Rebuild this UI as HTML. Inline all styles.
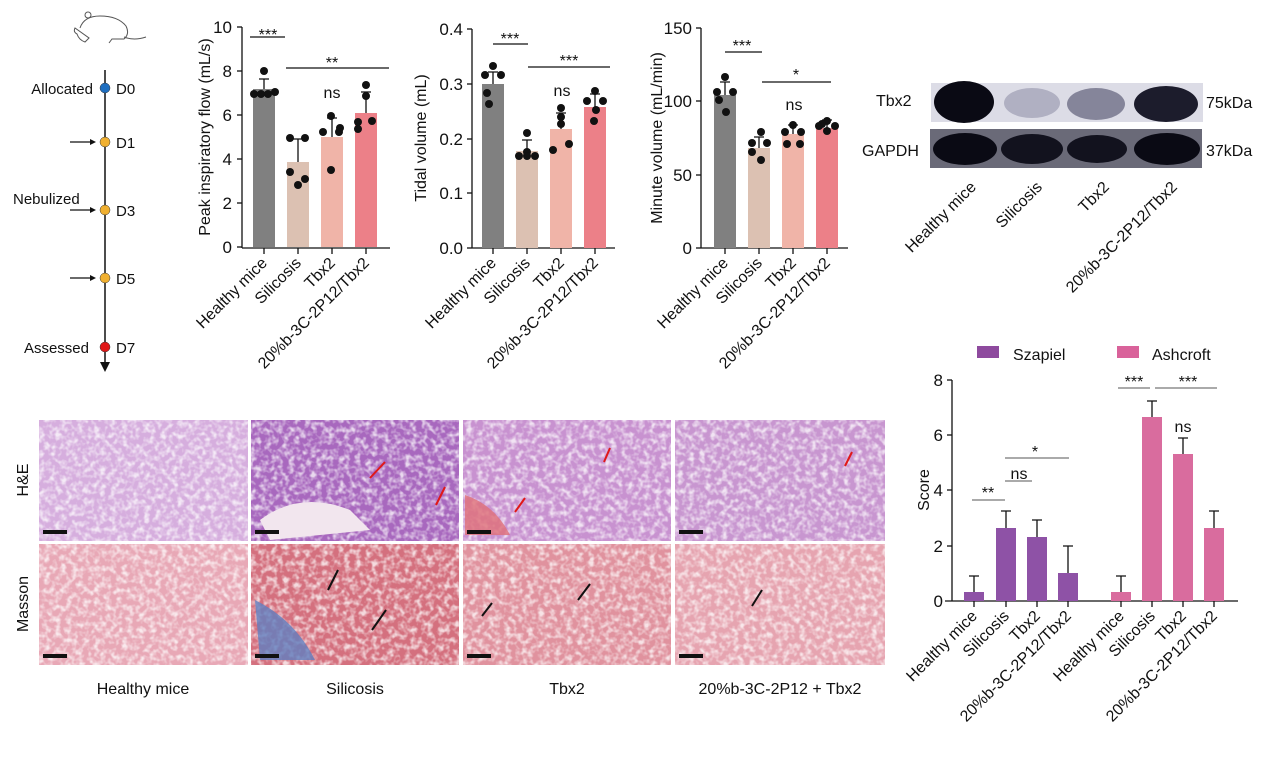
<!DOCTYPE html>
<html><head><meta charset="utf-8"><style>
body{margin:0;background:#fff}
svg{display:block;font-family:"Liberation Sans",Arial,sans-serif}
.n{font-size:17px}
</style></head><body>
<svg width="1268" height="760" viewBox="0 0 1268 760" xmlns="http://www.w3.org/2000/svg">
<defs>
<filter id="tex" x="0" y="0" width="100%" height="100%">
<feTurbulence type="fractalNoise" baseFrequency="0.18" numOctaves="2" seed="3"/>
<feColorMatrix type="matrix" values="0 0 0 0 1  0 0 0 0 1  0 0 0 0 1  0 0 0 -2.6 1.55"/>
</filter>
</defs>
<!-- mouse -->
<g stroke="#555" fill="none" stroke-width="1">
<path d="M80 28 q4-12 20-12 q18 0 26 10 q4 8 -2 13 h-12 l-3 4 m-20-5 l-4 4 q-6 -2 -8-8 q-4-2-2-6z"/>
<path d="M124 37 q10 4 22 0"/><circle cx="88" cy="15" r="3"/>
</g>
<!-- timeline -->
<g font-size="15" fill="#111">
<line x1="105" y1="70" x2="105" y2="362" stroke="#111" stroke-width="1.5"/>
<polygon points="100,362 110,362 105,372" fill="#111"/>
<circle cx="105" cy="88" r="5" fill="#1f6fc0" stroke="#333" stroke-width=".5"/>
<circle cx="105" cy="142" r="5" fill="#f0b030" stroke="#333" stroke-width=".5"/>
<circle cx="105" cy="210" r="5" fill="#f0b030" stroke="#333" stroke-width=".5"/>
<circle cx="105" cy="278" r="5" fill="#f0b030" stroke="#333" stroke-width=".5"/>
<circle cx="105" cy="347" r="5" fill="#e01818" stroke="#333" stroke-width=".5"/>
<text x="116" y="94">D0</text><text x="116" y="148">D1</text><text x="116" y="216">D3</text><text x="116" y="284">D5</text><text x="116" y="353">D7</text>
<text x="93" y="94" text-anchor="end">Allocated</text>
<text x="13" y="204">Nebulized</text>
<text x="89" y="353" text-anchor="end">Assessed</text>
<g stroke="#111" stroke-width="1.2"><line x1="70" y1="142" x2="92" y2="142"/><line x1="70" y1="210" x2="92" y2="210"/><line x1="70" y1="278" x2="92" y2="278"/></g>
<polygon points="90,139 96,142 90,145" fill="#111"/><polygon points="90,207 96,210 90,213" fill="#111"/><polygon points="90,275 96,278 90,281" fill="#111"/>
</g>

<!-- Chart 1 -->
<g font-size="16" fill="#111">
<g stroke="#111" stroke-width="1.3">
<line x1="242" y1="27" x2="242" y2="248"/><line x1="242" y1="248" x2="390" y2="248"/>
<line x1="237" y1="27" x2="242" y2="27"/><line x1="237" y1="71" x2="242" y2="71"/><line x1="237" y1="115" x2="242" y2="115"/><line x1="237" y1="159" x2="242" y2="159"/><line x1="237" y1="203" x2="242" y2="203"/><line x1="237" y1="247" x2="242" y2="247"/>
<line x1="264" y1="248" x2="264" y2="254"/><line x1="298" y1="248" x2="298" y2="254"/><line x1="332" y1="248" x2="332" y2="254"/><line x1="366" y1="248" x2="366" y2="254"/>
</g>
<g text-anchor="end" class="n"><text x="232" y="33">10</text><text x="232" y="77">8</text><text x="232" y="121">6</text><text x="232" y="165">4</text><text x="232" y="209">2</text><text x="232" y="253">0</text></g>
<text transform="translate(210,137) rotate(-90)" text-anchor="middle">Peak inspiratory flow (mL/s)</text>
<rect x="253" y="89" width="22" height="158" fill="#808080"/><rect x="287" y="162" width="22" height="85" fill="#dcc1b2"/><rect x="321" y="137" width="22" height="110" fill="#f0b4a8"/><rect x="355" y="113" width="22" height="134" fill="#ec8088"/>
<g stroke="#111" stroke-width="1.3"><path d="M264 89V79M259 79h10M298 162V139M293 139h10M332 137V118M327 118h10M366 113V92M361 92h10"/>
<path d="M250 37h35M286 68h103"/></g>
<g fill="#111"><circle cx="264" cy="71" r="4"/><circle cx="254" cy="94" r="4"/><circle cx="261" cy="94" r="4"/><circle cx="268" cy="94" r="4"/><circle cx="275" cy="92" r="4"/>
<circle cx="290" cy="138" r="4"/><circle cx="305" cy="138" r="4"/><circle cx="290" cy="172" r="4"/><circle cx="305" cy="179" r="4"/><circle cx="298" cy="185" r="4"/>
<circle cx="323" cy="132" r="4"/><circle cx="331" cy="116" r="4"/><circle cx="340" cy="128" r="4"/><circle cx="331" cy="170" r="4"/><circle cx="339" cy="132" r="4"/>
<circle cx="366" cy="85" r="4"/><circle cx="366" cy="96" r="4"/><circle cx="358" cy="122" r="4"/><circle cx="372" cy="121" r="4"/><circle cx="358" cy="129" r="4"/></g>
<text x="268" y="40" text-anchor="middle">***</text><text x="332" y="68" text-anchor="middle">**</text><text x="332" y="98" text-anchor="middle">ns</text>
<g text-anchor="end"><text transform="translate(268,264) rotate(-45)">Healthy mice</text><text transform="translate(302,264) rotate(-45)">Silicosis</text><text transform="translate(336,264) rotate(-45)">Tbx2</text><text transform="translate(370,264) rotate(-45)">20%b-3C-2P12/Tbx2</text></g>
</g>

<!-- Chart 2 -->
<g font-size="16" fill="#111">
<g stroke="#111" stroke-width="1.3">
<line x1="472" y1="29" x2="472" y2="248"/><line x1="472" y1="248" x2="615" y2="248"/>
<line x1="467" y1="29" x2="472" y2="29"/><line x1="467" y1="84" x2="472" y2="84"/><line x1="467" y1="139" x2="472" y2="139"/><line x1="467" y1="193" x2="472" y2="193"/><line x1="467" y1="248" x2="472" y2="248"/>
<line x1="493" y1="248" x2="493" y2="254"/><line x1="527" y1="248" x2="527" y2="254"/><line x1="561" y1="248" x2="561" y2="254"/><line x1="595" y1="248" x2="595" y2="254"/>
</g>
<g text-anchor="end" class="n"><text x="463" y="35">0.4</text><text x="463" y="90">0.3</text><text x="463" y="145">0.2</text><text x="463" y="199">0.1</text><text x="463" y="254">0.0</text></g>
<text transform="translate(426,138) rotate(-90)" text-anchor="middle">Tidal volume (mL)</text>
<rect x="482" y="84" width="22" height="164" fill="#808080"/><rect x="516" y="151" width="22" height="97" fill="#dcc1b2"/><rect x="550" y="129" width="22" height="119" fill="#f0b4a8"/><rect x="584" y="107" width="22" height="141" fill="#ec8088"/>
<g stroke="#111" stroke-width="1.3"><path d="M493 84V72M488 72h10M527 151V140M522 140h10M561 129V113M556 113h10M595 107V94M590 94h10M493 44h35M528 67h82"/></g>
<g fill="#111"><circle cx="493" cy="66" r="4"/><circle cx="485" cy="75" r="4"/><circle cx="501" cy="75" r="4"/><circle cx="487" cy="93" r="4"/><circle cx="489" cy="104" r="4"/>
<circle cx="527" cy="133" r="4"/><circle cx="519" cy="156" r="4"/><circle cx="527" cy="152" r="4"/><circle cx="535" cy="156" r="4"/><circle cx="527" cy="156" r="4"/>
<circle cx="561" cy="108" r="4"/><circle cx="561" cy="117" r="4"/><circle cx="553" cy="150" r="4"/><circle cx="569" cy="144" r="4"/><circle cx="561" cy="124" r="4"/>
<circle cx="595" cy="91" r="4"/><circle cx="587" cy="101" r="4"/><circle cx="603" cy="101" r="4"/><circle cx="596" cy="110" r="4"/><circle cx="594" cy="121" r="4"/></g>
<text x="510" y="44" text-anchor="middle">***</text><text x="569" y="66" text-anchor="middle">***</text><text x="562" y="96" text-anchor="middle">ns</text>
<g text-anchor="end"><text transform="translate(497,264) rotate(-45)">Healthy mice</text><text transform="translate(531,264) rotate(-45)">Silicosis</text><text transform="translate(565,264) rotate(-45)">Tbx2</text><text transform="translate(599,264) rotate(-45)">20%b-3C-2P12/Tbx2</text></g>
</g>

<!-- Chart 3 -->
<g font-size="16" fill="#111">
<g stroke="#111" stroke-width="1.3">
<line x1="701" y1="28" x2="701" y2="248"/><line x1="701" y1="248" x2="848" y2="248"/>
<line x1="696" y1="28" x2="701" y2="28"/><line x1="696" y1="101" x2="701" y2="101"/><line x1="696" y1="175" x2="701" y2="175"/><line x1="696" y1="248" x2="701" y2="248"/>
<line x1="725" y1="248" x2="725" y2="254"/><line x1="759" y1="248" x2="759" y2="254"/><line x1="793" y1="248" x2="793" y2="254"/><line x1="827" y1="248" x2="827" y2="254"/>
</g>
<g text-anchor="end" class="n"><text x="692" y="34">150</text><text x="692" y="107">100</text><text x="692" y="181">50</text><text x="692" y="254">0</text></g>
<text transform="translate(662,138) rotate(-90)" text-anchor="middle">Minute volume (mL/min)</text>
<rect x="714" y="95" width="22" height="153" fill="#808080"/><rect x="748" y="148" width="22" height="100" fill="#dcc1b2"/><rect x="782" y="134" width="22" height="114" fill="#f0b4a8"/><rect x="816" y="128" width="22" height="120" fill="#ec8088"/>
<g stroke="#111" stroke-width="1.3"><path d="M725 95V82M720 82h10M759 148V137M754 137h10M793 134V125M788 125h10M827 128V120M822 120h10M725 52h37M762 82h69"/></g>
<g fill="#111"><circle cx="725" cy="77" r="4"/><circle cx="717" cy="92" r="4"/><circle cx="733" cy="92" r="4"/><circle cx="719" cy="100" r="4"/><circle cx="726" cy="112" r="4"/>
<circle cx="761" cy="132" r="4"/><circle cx="752" cy="143" r="4"/><circle cx="767" cy="143" r="4"/><circle cx="752" cy="152" r="4"/><circle cx="761" cy="160" r="4"/>
<circle cx="793" cy="125" r="4"/><circle cx="785" cy="132" r="4"/><circle cx="801" cy="132" r="4"/><circle cx="787" cy="144" r="4"/><circle cx="800" cy="144" r="4"/>
<circle cx="827" cy="121" r="4"/><circle cx="819" cy="126" r="4"/><circle cx="835" cy="126" r="4"/><circle cx="827" cy="131" r="4"/><circle cx="822" cy="124" r="4"/></g>
<text x="742" y="51" text-anchor="middle">***</text><text x="796" y="80" text-anchor="middle">*</text><text x="794" y="110" text-anchor="middle">ns</text>
<g text-anchor="end"><text transform="translate(729,264) rotate(-45)">Healthy mice</text><text transform="translate(763,264) rotate(-45)">Silicosis</text><text transform="translate(797,264) rotate(-45)">Tbx2</text><text transform="translate(831,264) rotate(-45)">20%b-3C-2P12/Tbx2</text></g>
</g>

<!-- Western blot -->
<g font-size="16" fill="#111">
<rect x="931" y="83" width="272" height="39" fill="#dcdce6"/>
<rect x="930" y="129" width="272" height="39" fill="#6a6a78"/>
<ellipse cx="964" cy="102" rx="30" ry="21" fill="#0a0a14"/>
<ellipse cx="1032" cy="103" rx="28" ry="15" fill="#b0b0c2"/>
<ellipse cx="1096" cy="104" rx="29" ry="16" fill="#85859a"/>
<ellipse cx="1166" cy="104" rx="32" ry="18" fill="#1c1c2c"/>
<ellipse cx="965" cy="149" rx="32" ry="16" fill="#0a0a14"/>
<ellipse cx="1032" cy="149" rx="31" ry="15" fill="#12121e"/>
<ellipse cx="1097" cy="149" rx="30" ry="14" fill="#12121e"/>
<ellipse cx="1167" cy="149" rx="33" ry="16" fill="#0a0a14"/>
<text x="876" y="106">Tbx2</text><text x="862" y="156">GAPDH</text>
<text x="1206" y="108">75kDa</text><text x="1206" y="156">37kDa</text>
<g text-anchor="end"><text transform="translate(977,188) rotate(-45)">Healthy mice</text><text transform="translate(1043,188) rotate(-45)">Silicosis</text><text transform="translate(1110,188) rotate(-45)">Tbx2</text><text transform="translate(1178,188) rotate(-45)">20%b-3C-2P12/Tbx2</text></g>
</g>

<!-- Histology -->
<g>
<rect x="39" y="420" width="209" height="121" fill="#d6aede"/>
<rect x="251" y="420" width="208" height="121" fill="#a868be"/>
<rect x="463" y="420" width="208" height="121" fill="#c892d0"/>
<rect x="675" y="420" width="210" height="121" fill="#c896d0"/>
<rect x="39" y="544" width="209" height="121" fill="#e8a8b6"/>
<rect x="251" y="544" width="208" height="121" fill="#d4707e"/>
<rect x="463" y="544" width="208" height="121" fill="#e0929e"/>
<rect x="675" y="544" width="210" height="121" fill="#e6a4b0"/>
<rect x="39" y="420" width="846" height="245" filter="url(#tex)" opacity="0.75"/>
<rect x="248" y="420" width="3" height="245" fill="#fff"/><rect x="459" y="420" width="4" height="245" fill="#fff"/><rect x="671" y="420" width="4" height="245" fill="#fff"/><rect x="39" y="541" width="846" height="3" fill="#fff"/>
<path d="M260 520 q40-30 90-10 l20 20 -100 10z" fill="#f2e6ee"/>
<path d="M255 600 q40 20 60 60 h-55z" fill="#6080c0" opacity=".8"/>
<path d="M465 495 q30 10 45 40 h-45z" fill="#e07078" opacity=".8"/>
<g fill="#111"><rect x="43" y="530" width="24" height="4"/><rect x="255" y="530" width="24" height="4"/><rect x="467" y="530" width="24" height="4"/><rect x="679" y="530" width="24" height="4"/>
<rect x="43" y="654" width="24" height="4"/><rect x="255" y="654" width="24" height="4"/><rect x="467" y="654" width="24" height="4"/><rect x="679" y="654" width="24" height="4"/></g>
<g stroke="#e01818" stroke-width="2"><line x1="385" y1="462" x2="370" y2="478"/><line x1="445" y1="487" x2="436" y2="505"/><line x1="610" y1="448" x2="604" y2="462"/><line x1="525" y1="498" x2="515" y2="512"/><line x1="852" y1="452" x2="845" y2="466"/></g>
<g stroke="#111" stroke-width="2"><line x1="338" y1="570" x2="328" y2="590"/><line x1="386" y1="610" x2="372" y2="630"/><line x1="590" y1="584" x2="578" y2="600"/><line x1="492" y1="603" x2="482" y2="616"/><line x1="762" y1="590" x2="752" y2="606"/></g>
<g font-size="16" fill="#111">
<text transform="translate(28,480) rotate(-90)" text-anchor="middle">H&amp;E</text>
<text transform="translate(28,604) rotate(-90)" text-anchor="middle">Masson</text>
<text x="143" y="694" text-anchor="middle">Healthy mice</text><text x="355" y="694" text-anchor="middle">Silicosis</text><text x="567" y="694" text-anchor="middle">Tbx2</text><text x="780" y="694" text-anchor="middle">20%b-3C-2P12 + Tbx2</text>
</g>
</g>

<!-- Score chart -->
<g font-size="16" fill="#111">
<rect x="977" y="346" width="22" height="12" fill="#8e4a9e"/><text x="1013" y="360">Szapiel</text>
<rect x="1117" y="346" width="22" height="12" fill="#d9629a"/><text x="1152" y="360">Ashcroft</text>
<g stroke="#111" stroke-width="1.3">
<line x1="952" y1="380" x2="952" y2="601"/><line x1="945" y1="601" x2="1238" y2="601"/>
<line x1="947" y1="380" x2="952" y2="380"/><line x1="947" y1="435" x2="952" y2="435"/><line x1="947" y1="490" x2="952" y2="490"/><line x1="947" y1="546" x2="952" y2="546"/>
<g><line x1="974" y1="601" x2="974" y2="607"/><line x1="1006" y1="601" x2="1006" y2="607"/><line x1="1037" y1="601" x2="1037" y2="607"/><line x1="1068" y1="601" x2="1068" y2="607"/><line x1="1121" y1="601" x2="1121" y2="607"/><line x1="1152" y1="601" x2="1152" y2="607"/><line x1="1183" y1="601" x2="1183" y2="607"/><line x1="1214" y1="601" x2="1214" y2="607"/></g>
</g>
<g text-anchor="end" class="n"><text x="943" y="386">8</text><text x="943" y="441">6</text><text x="943" y="496">4</text><text x="943" y="552">2</text><text x="943" y="607">0</text></g>
<text transform="translate(929,490) rotate(-90)" text-anchor="middle">Score</text>
<g fill="#8e52a6"><rect x="964" y="592" width="20" height="9"/><rect x="996" y="528" width="20" height="73"/><rect x="1027" y="537" width="20" height="64"/><rect x="1058" y="573" width="20" height="28"/></g>
<g fill="#d96c9e"><rect x="1111" y="592" width="20" height="9"/><rect x="1142" y="417" width="20" height="184"/><rect x="1173" y="454" width="20" height="147"/><rect x="1204" y="528" width="20" height="73"/></g>
<g stroke="#111" stroke-width="1.3"><path d="M974 592V576M969 576h10M1006 528V511M1001 511h10M1037 537V520M1032 520h10M1068 573V546M1063 546h10M1121 592V576M1116 576h10M1152 417V401M1147 401h10M1183 454V438M1178 438h10M1214 528V511M1209 511h10"/></g>
<g stroke="#555" stroke-width="1"><path d="M972 500h33M1005 481h27M1005 458h64M1118 388h32M1155 388h62"/></g>
<text x="988" y="498" text-anchor="middle">**</text><text x="1019" y="479" text-anchor="middle">ns</text><text x="1035" y="457" text-anchor="middle">*</text><text x="1134" y="387" text-anchor="middle">***</text><text x="1188" y="387" text-anchor="middle">***</text><text x="1183" y="432" text-anchor="middle">ns</text>
<g text-anchor="end"><text transform="translate(978,617) rotate(-45)">Healthy mice</text><text transform="translate(1010,617) rotate(-45)">Silicosis</text><text transform="translate(1041,617) rotate(-45)">Tbx2</text><text transform="translate(1072,617) rotate(-45)">20%b-3C-2P12/Tbx2</text>
<text transform="translate(1125,617) rotate(-45)">Healthy mice</text><text transform="translate(1156,617) rotate(-45)">Silicosis</text><text transform="translate(1187,617) rotate(-45)">Tbx2</text><text transform="translate(1218,617) rotate(-45)">20%b-3C-2P12/Tbx2</text></g>
</g>
</svg>
</body></html>
